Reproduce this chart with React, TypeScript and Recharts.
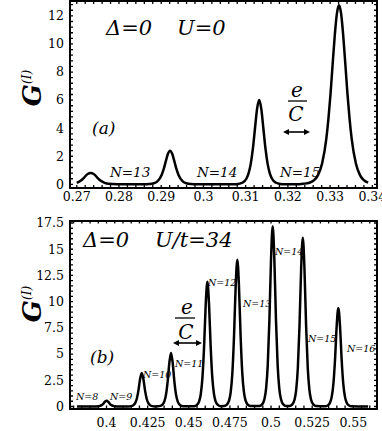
import { LineChart, Line, XAxis, YAxis } from "recharts";

const FONT = "DejaVu Serif";

// panel (a): gate voltage vs conductance, U = 0
const topX = [
  0.27, 0.271, 0.2718, 0.2726, 0.2733, 0.274, 0.2748, 0.2756, 0.2766, 0.2776, 0.2795, 0.284,
  0.2861, 0.2871, 0.2881, 0.2891, 0.2901, 0.2906, 0.2911, 0.2916, 0.2921, 0.2926, 0.2931, 0.2936,
  0.2941, 0.2951, 0.2961, 0.2971, 0.2985,
  0.3072, 0.3082, 0.3092, 0.3102, 0.3107, 0.3112, 0.3117, 0.3122, 0.3127, 0.3132, 0.3137, 0.3142,
  0.3147, 0.3152, 0.3157, 0.3162, 0.3172, 0.3182, 0.3192, 0.322,
  0.3236, 0.3251, 0.3261, 0.3271, 0.3281, 0.3291, 0.3296, 0.3301, 0.3306, 0.3311, 0.3316, 0.3321,
  0.3326, 0.3331, 0.3336, 0.3341, 0.3346, 0.3351, 0.3361, 0.3371, 0.3381, 0.339,
];
const topY = [
  0.11, 0.27, 0.5, 0.74, 0.8, 0.74, 0.5, 0.27, 0.11, 0.04, 0.01, 0,
  0.005, 0.02, 0.064, 0.21, 0.67, 1.1, 1.66, 2.18, 2.4, 2.18, 1.66, 1.1,
  0.67, 0.21, 0.064, 0.02, 0,
  0.008, 0.03, 0.115, 0.42, 0.8, 1.46, 2.52, 3.96, 5.38, 6.0, 5.38, 3.96,
  2.52, 1.46, 0.8, 0.42, 0.115, 0.03, 0.008, 0,
  0.04, 0.115, 0.27, 0.64, 1.48, 3.25, 4.68, 6.46, 8.57, 10.61, 12.16, 12.75,
  12.16, 10.61, 8.57, 6.46, 4.68, 3.25, 1.48, 0.64, 0.27, 0.12,
];

// panel (b): U/t = 34
const botX = [
  0.382,
  0.392, 0.3935, 0.395, 0.396, 0.397, 0.398, 0.399, 0.4, 0.401, 0.402, 0.403, 0.404, 0.405, 0.4065, 0.408,
  0.4134, 0.4149, 0.4164, 0.4174, 0.4184, 0.4194, 0.4204, 0.4214, 0.4224, 0.4234, 0.4244, 0.4254, 0.4264, 0.4279, 0.4294,
  0.4312, 0.4327, 0.4342, 0.4352, 0.4362, 0.4372, 0.4382, 0.4392, 0.4402, 0.4412, 0.4422, 0.4432, 0.4442, 0.4457, 0.4472,
  0.4533, 0.4548, 0.4563, 0.4573, 0.4583, 0.4593, 0.4603, 0.4613, 0.4623, 0.4633, 0.4643, 0.4653, 0.4663, 0.4678, 0.4693,
  0.4715, 0.473, 0.4745, 0.4755, 0.4765, 0.4775, 0.4785, 0.4795, 0.4805, 0.4815, 0.4825, 0.4835, 0.4845, 0.486, 0.4875,
  0.493, 0.4945, 0.496, 0.497, 0.498, 0.499, 0.5, 0.501, 0.502, 0.503, 0.504, 0.505, 0.506, 0.5075, 0.509,
  0.5113, 0.5128, 0.5143, 0.5153, 0.5163, 0.5173, 0.5183, 0.5193, 0.5203, 0.5213, 0.5223, 0.5233, 0.5243, 0.5258, 0.5273,
  0.5329, 0.5344, 0.5359, 0.5369, 0.5379, 0.5389, 0.5399, 0.5409, 0.5419, 0.5429, 0.5439, 0.5449, 0.5459, 0.5474, 0.5489,
  0.559,
];
const botY = [
  0,
  0.002, 0.006, 0.023, 0.055, 0.13, 0.26, 0.45, 0.55, 0.45, 0.26, 0.13, 0.055, 0.023, 0.006, 0.002,
  0.009, 0.035, 0.13, 0.32, 0.74, 1.54, 2.62, 3.2, 2.62, 1.54, 0.74, 0.32, 0.13, 0.035, 0.009,
  0.014, 0.055, 0.21, 0.51, 1.18, 2.45, 4.18, 5.1, 4.18, 2.45, 1.18, 0.51, 0.21, 0.055, 0.014,
  0.033, 0.13, 0.49, 1.19, 2.75, 5.71, 9.75, 11.9, 9.75, 5.71, 2.75, 1.19, 0.49, 0.13, 0.033,
  0.039, 0.15, 0.58, 1.4, 3.23, 6.72, 11.47, 14.0, 11.47, 6.72, 3.23, 1.4, 0.58, 0.15, 0.039,
  0.048, 0.19, 0.71, 1.72, 3.97, 8.26, 14.09, 17.2, 14.09, 8.26, 3.97, 1.72, 0.71, 0.19, 0.048,
  0.045, 0.17, 0.67, 1.61, 3.72, 7.73, 13.19, 16.1, 13.19, 7.73, 3.72, 1.61, 0.67, 0.17, 0.045,
  0.026, 0.1, 0.39, 0.94, 2.17, 4.51, 7.7, 9.4, 7.7, 4.51, 2.17, 0.94, 0.39, 0.1, 0.026,
  0,
];

const topXTicks = [0.27, 0.28, 0.29, 0.3, 0.31, 0.32, 0.33, 0.34];
const topYTicks = [0, 2, 4, 6, 8, 10, 12];
const botXTicks = [0.4, 0.425, 0.45, 0.475, 0.5, 0.525, 0.55];
const botYTicks = [0, 2.5, 5, 7.5, 10, 12.5, 15, 17.5];

const topLabels = ["N=13", "N=14", "N=15"];
const botLabels = ["N=8", "N=9", "N=10", "N=11", "N=12", "N=13", "N=14", "N=15", "N=16"];

// minor tick values for the frame
function minor(from: number, to: number, step: number): number[] {
  const out: number[] = [];
  const n = Math.round((to - from) / step);
  for (let i = 0; i <= n; i++) out.push(Math.round((from + i * step) * 1e6) / 1e6);
  return out;
}

const PLOT_W = 307; // 382 - 70 left - 5 right
const TICK_LEN = 3;

// x tick: inward marks on bottom and top frame edges, label only for major values
function makeXTick(major: number[], plotH: number, margin: number) {
  return function XTick(props: any) {
    const { x, y, payload } = props;
    const axisY = y - margin;
    const isMajor = major.some((m) => Math.abs(m - payload.value) < 1e-9);
    return (
      <g>
        <path d={`M${x} ${axisY} V${axisY - TICK_LEN} M${x} ${axisY - plotH} V${axisY - plotH + TICK_LEN}`}
          stroke="#000" strokeWidth={1.3} fill="none" />
        {isMajor && (
          <text x={x} y={y} dy="0.71em" textAnchor="middle" fontSize={12.5} fontFamily={FONT} fill="#000">
            {String(payload.value)}
          </text>
        )}
      </g>
    );
  };
}

function makeYTick(major: number[], margin: number) {
  return function YTick(props: any) {
    const { x, y, payload } = props;
    const axisX = x + margin;
    const isMajor = major.some((m) => Math.abs(m - payload.value) < 1e-9);
    return (
      <g>
        <path d={`M${axisX} ${y} H${axisX + TICK_LEN} M${axisX + PLOT_W} ${y} H${axisX + PLOT_W - TICK_LEN}`}
          stroke="#000" strokeWidth={1.3} fill="none" />
        {isMajor && (
          <text x={x} y={y} dy="0.35em" textAnchor="end" fontSize={12.5} fontFamily={FONT} fill="#000">
            {String(payload.value)}
          </text>
        )}
      </g>
    );
  };
}

interface PanelProps {
  xs: number[];
  ys: number[];
  xDomain: [number, number];
  yDomain: [number, number];
  xTicks: number[];
  yTicks: number[];
  xMinor: number[];
  yMinor: number[];
  height: number;
  marginTop: number;
  xAxisHeight: number;
  xTickMargin: number;
}

function Panel(p: PanelProps) {
  const data = p.xs.map((x, i) => ({ x, y: p.ys[i] }));
  const plotH = p.height - p.marginTop - p.xAxisHeight;
  return (
    <div style={{ position: "relative", width: 382, height: p.height }}>
      <LineChart
        width={382}
        height={p.height}
        data={data}
        margin={{ top: p.marginTop, right: 5, bottom: 0, left: 0 }}
      >
        <XAxis
          dataKey="x"
          type="number"
          domain={p.xDomain}
          allowDataOverflow
          ticks={p.xMinor}
          interval={0}
          height={p.xAxisHeight}
          tickLine={false}
          tickSize={0}
          tickMargin={p.xTickMargin}
          axisLine={false}
          tick={makeXTick(p.xTicks, plotH, p.xTickMargin)}
        />
        <YAxis
          type="number"
          domain={p.yDomain}
          allowDataOverflow
          ticks={p.yMinor}
          interval={0}
          width={70}
          tickLine={false}
          tickSize={0}
          tickMargin={6}
          axisLine={false}
          tick={makeYTick(p.yTicks, 6)}
        />
        <Line
          dataKey="y"
          type="monotone"
          stroke="#000"
          strokeWidth={2.5}
          dot={false}
          isAnimationActive={false}
        />
      </LineChart>
      {/* plot frame */}
      <div
        style={{
          position: "absolute",
          left: 69,
          top: p.marginTop - 1,
          width: PLOT_W - 2,
          height: plotH - 2,
          border: "2px solid #000",
          pointerEvents: "none",
        }}
      />
    </div>
  );
}

function Arrow({ x1, x2, y }: { x1: number; x2: number; y: number }) {
  return (
    <g fill="#000" stroke="none">
      <line x1={x1 + 4} x2={x2 - 4} y1={y} y2={y} stroke="#000" strokeWidth={1.6} />
      <polygon points={`${x1},${y} ${x1 + 6},${y - 3} ${x1 + 6},${y + 3}`} />
      <polygon points={`${x2},${y} ${x2 - 6},${y - 3} ${x2 - 6},${y + 3}`} />
    </g>
  );
}

const italic = { fontStyle: "italic" as const, fill: "#000", fontFamily: FONT };

export default function App() {
  return (
    <div style={{ position: "absolute", left: 0, top: 0, width: 382, height: 431, background: "#fff" }}>
      <div style={{ position: "absolute", left: 0, top: 0 }}>
        <Panel
          xs={topX}
          ys={topY}
          xDomain={[0.2684, 0.3411]}
          yDomain={[-0.26, 13.06]}
          xTicks={topXTicks}
          yTicks={topYTicks}
          xMinor={minor(0.27, 0.34, 0.002)}
          yMinor={minor(0, 12.8, 0.4)}
          height={215}
          marginTop={1}
          xAxisHeight={27}
          xTickMargin={4}
        />
      </div>
      <div style={{ position: "absolute", left: 0, top: 215 }}>
        <Panel
          xs={botX}
          ys={botY}
          xDomain={[0.3778, 0.5644]}
          yDomain={[-0.19, 17.74]}
          xTicks={botXTicks}
          yTicks={botYTicks}
          xMinor={minor(0.38, 0.56, 0.005)}
          yMinor={minor(0, 17.5, 0.5)}
          height={216}
          marginTop={5.5}
          xAxisHeight={22.5}
          xTickMargin={10}
        />
      </div>
      <svg
        width={382}
        height={431}
        style={{ position: "absolute", left: 0, top: 0, pointerEvents: "none" }}
      >
        <text transform="translate(41,88) rotate(-90)" textAnchor="middle" fontSize={26} fontWeight="bold" {...italic}>
          G<tspan fontSize={12} fontWeight="normal" dy={-10}>(I)</tspan>
        </text>
        <text transform="translate(41,304) rotate(-90)" textAnchor="middle" fontSize={26} fontWeight="bold" {...italic}>
          G<tspan fontSize={12} fontWeight="normal" dy={-10}>(I)</tspan>
        </text>

        <text x={106} y={35} fontSize={21} {...italic}>Δ=0</text>
        <text x={177} y={35} fontSize={21} {...italic}>U=0</text>
        <text x={92} y={134} fontSize={17} {...italic}>(a)</text>
        <text x={110} y={177} fontSize={13.5} {...italic}>{topLabels[0]}</text>
        <text x={197} y={177} fontSize={13.5} {...italic}>{topLabels[1]}</text>
        <text x={280} y={177} fontSize={13.5} {...italic}>{topLabels[2]}</text>
        <text x={297} y={97} fontSize={20} textAnchor="middle" {...italic}>e</text>
        <line x1={288} x2={307} y1={101} y2={101} stroke="#000" strokeWidth={1.3} />
        <text x={296} y={121} fontSize={20} textAnchor="middle" {...italic}>C</text>
        <Arrow x1={283} x2={310} y={132} />

        <text x={83} y={247} fontSize={21} {...italic}>Δ=0</text>
        <text x={155} y={247} fontSize={21} {...italic}>U/t=34</text>
        <text x={90} y={363} fontSize={17} {...italic}>(b)</text>
        <text x={187} y={314} fontSize={20} textAnchor="middle" {...italic}>e</text>
        <line x1={175} x2={195} y1={318} y2={318} stroke="#000" strokeWidth={1.3} />
        <text x={186} y={339} fontSize={20} textAnchor="middle" {...italic}>C</text>
        <Arrow x1={173} x2={202} y={343} />
        <text x={76} y={400} fontSize={9.5} {...italic}>{botLabels[0]}</text>
        <text x={110} y={400} fontSize={9.5} {...italic}>{botLabels[1]}</text>
        <text x={143} y={378} fontSize={9.5} {...italic}>{botLabels[2]}</text>
        <text x={175} y={367} fontSize={9.5} {...italic}>{botLabels[3]}</text>
        <text x={208} y={286} fontSize={9.5} {...italic}>{botLabels[4]}</text>
        <text x={243} y={307} fontSize={9.5} {...italic}>{botLabels[5]}</text>
        <text x={275} y={255} fontSize={9.5} {...italic}>{botLabels[6]}</text>
        <text x={308} y={342} fontSize={9.5} {...italic}>{botLabels[7]}</text>
        <text x={347} y={352} fontSize={9.5} {...italic}>{botLabels[8]}</text>
      </svg>
    </div>
  );
}
